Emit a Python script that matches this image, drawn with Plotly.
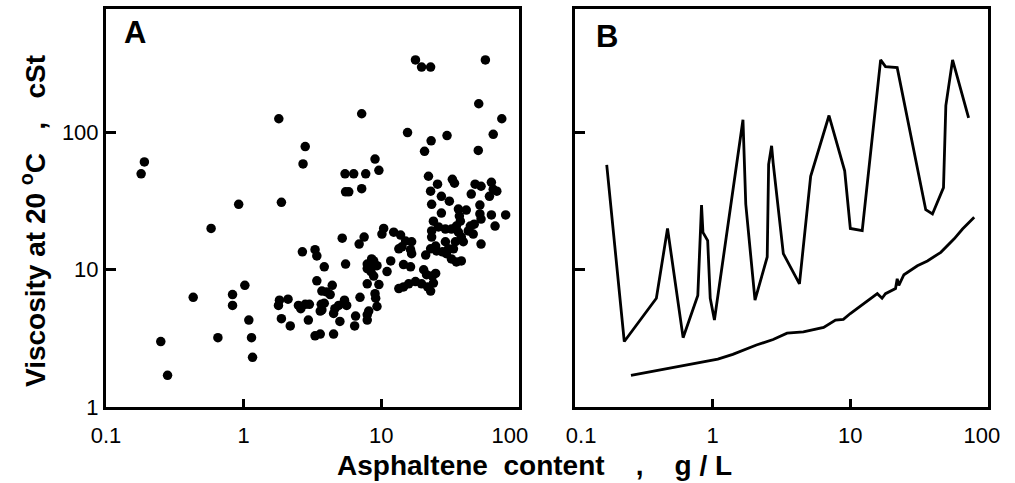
import plotly.graph_objects as go

# Panel A: scatter of viscosity vs asphaltene content
xa = [0.19,0.18,0.25,0.28,0.43,0.58,0.65,0.83,0.83,0.92,1.02,1.09,1.14,1.16,1.8,1.88,1.82,2.1,1.79,1.88,
      2.18,2.5,2.8,3.0,2.67,2.8,2.7,2.95,3.3,3.4,3.4,3.85,3.7,4.0,4.25,4.4,3.66,3.85,3.7,3.6,
      3.3,3.6,4.5,4.6,4.9,5.4,5.6,4.5,5.0,5.2,6.9,7.5,5.5,6.5,6.4,5.45,6.3,7.7,5.5,5.8,
      7.2,7.2,9.0,9.6,8.5,7.9,8.4,8.8,9.3,7.9,8.5,11,7.9,9.6,9.0,9.1,7.0,9.3,8.1,7.9,
      7.9,8.8,10.1,12.3,13.8,15,16.6,13.4,14.1,16.3,16.6,11.7,14.5,16.3,20.3,21.3,23.5,24.8,13.4,14.5,
      15.8,17.7,19.6,21.7,22.8,23.9,10.4,15.5,17.7,19.6,22.8,57,51,75,65,23,30,20.6,50.6,22,
      25.6,32.8,34,48,53,63,65,69,22.8,27.3,31.2,45,61,23.2,52,36.3,41.4,27.3,36.9,37.5,
      52,53,63,80,23.9,67,26,29.2,32.3,35.1,44.3,47.3,46.5,23.2,36.3,38.1,42.8,53,23.2,24.8,
      29.2,34.5,33.4,29.7,32.3,38.1,22.8,25.2,27.8,21,35.1,39.4,30.7,2.6]
ya = [61,50,3.0,1.7,6.3,20,3.2,6.6,5.5,30,7.7,4.3,3.2,2.3,126,31,6.0,6.1,5.5,4.4,
      3.9,5.5,5.6,5.6,13.5,79,59,4.3,14,12.6,8.3,10.5,7.0,6.9,6.6,7.7,5.6,5.7,5.1,5.0,
      3.3,3.4,3.4,5.2,5.5,6.0,5.5,4.8,4.2,17,15.4,17.3,11,4.6,3.9,50,50,50,37,37,
      39,137,64,53,12,10.2,9.7,9.0,10.7,11,10.5,9.7,7.9,7.8,6.7,6.2,6.3,5.4,5.0,4.7,
      4.3,11.6,18.2,18.8,17.9,16.2,16,14.2,14.7,14,13.1,11.6,10.9,10.5,10,9.2,9.0,9.4,7.3,7.5,
      7.9,8.2,7.9,7.5,7.0,8.0,20,100,338,300,300,338,162,126,97,87,95,73,74,48,
      42,45.6,42.7,42,40.6,43.4,38.6,37.4,37.4,34.3,31.6,35.6,34.3,30,29.6,27.7,27.2,25.9,24.6,22.6,
      25.5,23.4,25.1,25.1,22.6,20.8,20.5,19.8,19.8,20.8,20.8,21.5,18.2,19.2,18.8,17.3,19.2,15.4,17.3,14.9,
      16,16,14.2,13.1,12,11.6,14.2,13.7,13.5,12.8,11.4,16,14.2,5.2]

# Panel B: upper (maximum) and lower (minimum) envelope lines
xu = [0.17,0.228,0.39,0.47,0.61,0.78,0.83,0.85,0.92,0.96,1.03,1.66,1.74,2.03,2.49,2.55,2.68,2.75,
      3.26,4.27,5.15,7.0,9.1,10,12.2,16.6,18,21.9,35.3,39.5,47.5,49.4,55.3,72.3]
yu = [58,3.0,6.2,20,3.2,6.5,29.6,18.7,16.3,6.2,4.3,124,30,6.0,12.4,58.6,80,60,
      13.1,7.9,48,133,52.6,20,19.3,338,302,297,27.4,25.5,39.7,157,338,128]
xl = [0.255,0.68,1.09,1.4,2.08,2.75,3.47,4.56,6.4,7.8,8.9,10,12.9,15.7,17,18,21.3,21.9,22.5,
      24.5,30.7,36.3,45.4,56.8,65.3,79.4]
yl = [1.70,2.03,2.23,2.42,2.83,3.1,3.45,3.53,3.8,4.3,4.35,4.8,5.8,6.7,6.2,6.7,7.3,8.6,7.7,
      9.2,10.7,11.6,13.4,16.8,19.8,24.1]

xtick_vals = [0.1, 1, 10, 100]
xtick_text_a = ["0.1", "1", "10", "100\u00a0\u00a0\u00a0"]
xtick_text_b = ["\u00a0\u00a00.1", "1", "10", "100\u00a0\u00a0"]
ytick_vals = [1, 10, 100]
ytick_text = ["1", "10", "100"]

FONT = "Liberation Sans, Arial, sans-serif"

fig = go.Figure()
fig.add_trace(go.Scatter(x=xa, y=ya, mode="markers",
                         marker=dict(color="black", size=9.5, line=dict(width=0)),
                         xaxis="x", yaxis="y", showlegend=False))
fig.add_trace(go.Scatter(x=xu, y=yu, mode="lines", line=dict(color="black", width=2.8),
                         xaxis="x2", yaxis="y2", showlegend=False))
fig.add_trace(go.Scatter(x=xl, y=yl, mode="lines", line=dict(color="black", width=2.8),
                         xaxis="x2", yaxis="y2", showlegend=False))

common = dict(type="log", showline=True, mirror=True, linewidth=3, linecolor="black",
              ticks="inside", tickwidth=3, tickcolor="black", showgrid=False, zeroline=False,
              automargin=False,
              tickfont=dict(family=FONT, size=22, color="black"))

wA = 413 / 882
PH = 398
NB = "\u00a0"
fig.update_layout(
    template="none",
    width=1015, height=483,
    margin=dict(l=106, r=27, t=9, b=76, autoexpand=False),
    paper_bgcolor="white", plot_bgcolor="white",
    xaxis=dict(domain=[0, wA], range=[-1, 2], tickvals=xtick_vals, ticktext=xtick_text_a,
               ticklen=8, ticklabelstandoff=7, anchor="y", **common),
    yaxis=dict(domain=[0, 1], range=[0, 2.9], tickvals=ytick_vals, ticktext=ytick_text,
               ticklen=10, anchor="x", **common),
    xaxis2=dict(domain=[1 - wA, 1], range=[-1, 2], tickvals=xtick_vals, ticktext=xtick_text_b,
                ticklen=8, ticklabelstandoff=7, anchor="y2", **common),
    yaxis2=dict(domain=[0, 1], range=[0, 2.9], tickvals=ytick_vals, showticklabels=False,
                ticklen=10, anchor="x2", **common),
    annotations=[
        dict(text="<b>A</b>", xref="x domain", yref="y domain", x=(134.5 - 106) / 413,
             y=(407 - 32.5) / PH, xanchor="center", yanchor="middle",
             showarrow=False, font=dict(family=FONT, size=31, color="black")),
        dict(text="<b>B</b>", xref="x2 domain", yref="y2 domain", x=(607 - 575) / 413,
             y=(407 - 37) / PH, xanchor="center", yanchor="middle",
             showarrow=False, font=dict(family=FONT, size=31, color="black")),
        dict(text="<b>Asphaltene" + NB * 2 + "content" + NB * 4 + "," + NB * 4 + "g / L</b>",
             xref="paper", yref="paper", x=(534 - 106) / 882, y=-(465 - 407) / PH,
             xanchor="center", yanchor="middle",
             showarrow=False, font=dict(family=FONT, size=28, color="black")),
        dict(text="<b>Viscosity" + NB + "at" + NB + "20" + NB + "<sup>o</sup>C" + NB * 3 + "," + NB * 3 + "cSt</b>",
             xref="paper", yref="paper", x=-(106 - 33) / 882, y=(407 - 221) / PH,
             xanchor="center", yanchor="middle",
             textangle=-90, showarrow=False, font=dict(family=FONT, size=28, color="black")),
    ],
)

fig.write_html("out.html", config={"displayModeBar": False},
               post_script="document.body.style.margin='0';document.body.style.padding='0';")
